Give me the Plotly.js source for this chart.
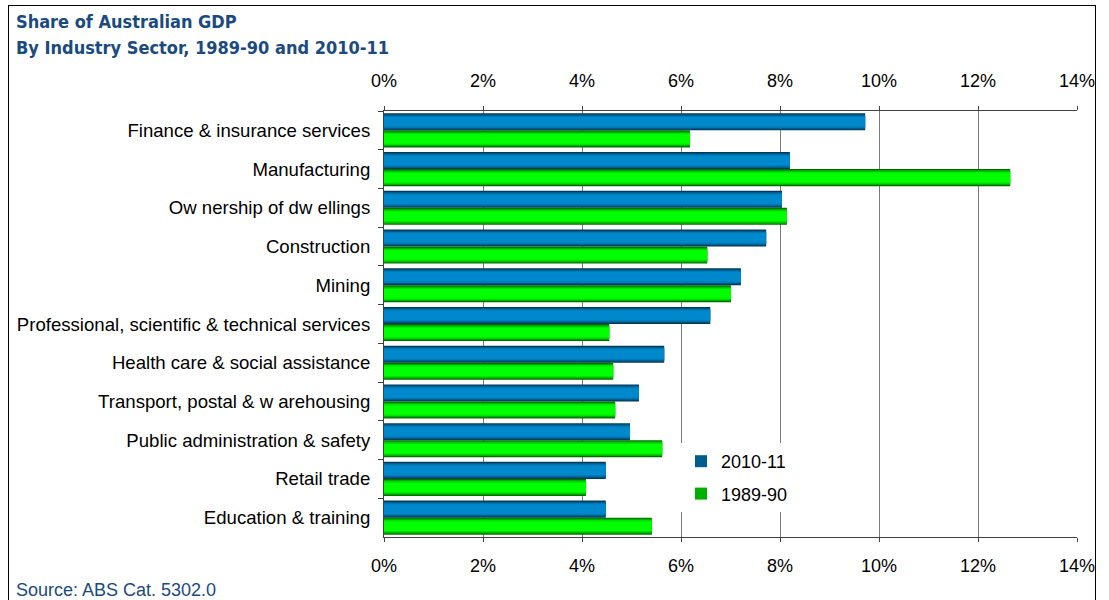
<!DOCTYPE html>
<html>
<head>
<meta charset="utf-8">
<script src="https://cdn.plot.ly/plotly-3.0.1.min.js"></script>
<style>
  html, body { margin: 0; padding: 0; background: #fff; }
  #wrap { position: relative; width: 1109px; height: 600px; overflow: hidden; }
  #chart { width: 1109px; height: 600px; }
  #frame { position: absolute; left: 8px; top: 5px; width: 1088px; height: 620px; border: 1px solid #000; pointer-events: none; box-sizing: border-box; }
</style>
</head>
<body>
<div id="wrap"><div id="chart"></div><div id="frame"></div></div>
<script>
// ---- data ----
const categories = [
  "Finance & insurance services",
  "Manufacturing",
  "Ow nership of dw ellings",
  "Construction",
  "Mining",
  "Professional, scientific & technical services",
  "Health care & social assistance",
  "Transport, postal & w arehousing",
  "Public administration & safety",
  "Retail trade",
  "Education & training"
];
const share2010 = [9.72, 8.20, 8.04, 7.72, 7.21, 6.59, 5.66, 5.15, 4.97, 4.48, 4.48];
const share1989 = [6.18, 12.65, 8.14, 6.53, 7.01, 4.55, 4.63, 4.67, 5.62, 4.08, 5.41];
const seriesNames = ["2010-11", "1989-90"];
const xTicks = [0, 2, 4, 6, 8, 10, 12, 14];
const titleLines = ["Share of Australian GDP", "By Industry Sector, 1989-90 and 2010-11"];
const sourceText = "Source: ABS Cat. 5302.0";

// ---- styling (gradient simulated with stacked overlay layers) ----
const half = 0.44;
const layerFrac = [1.0, 0.86, 0.72, 0.56];
const blueShades = ["#003a58", "#005c8c", "#0078b4", "#0088cc"];
const greenShades = ["#006e00", "#00b000", "#00e000", "#00ff00"];

function layers(values, name, shades, center) {
  return layerFrac.map((f, i) => {
    const w = half * f;
    return {
      type: "bar",
      orientation: "h",
      y: categories,
      x: values,
      name: name,
      legendgroup: name,
      showlegend: i === 1,
      width: w,
      offset: center - w / 2,
      marker: { color: shades[i], line: { width: 0 } },
      hoverinfo: "skip"
    };
  });
}

const traces = []
  .concat(layers(share2010, seriesNames[0], blueShades, -half / 2))
  .concat(layers(share1989, seriesNames[1], greenShades, half / 2));

// invisible trace to anchor the top axis
traces.push({
  type: "scatter", mode: "markers", x: [xTicks[0]], y: [categories[0]],
  xaxis: "x2", marker: { opacity: 0 }, showlegend: false, hoverinfo: "skip"
});

const FONT = "Liberation Sans, Arial, sans-serif";
const tickFont = { family: FONT, size: 18, color: "#000" };
const axisX = {
  range: [0, 14], tickvals: xTicks, ticktext: xTicks.map(v => v + "%"),
  showgrid: true, gridcolor: "#7a7a7a", gridwidth: 1, zeroline: false,
  showline: true, linecolor: "#404040", linewidth: 1,
  ticks: "outside", ticklen: 4, tickcolor: "#404040",
  tickfont: tickFont, fixedrange: true
};

const titleFont = { family: "DejaVu Sans Condensed, DejaVu Sans, sans-serif", size: 18, color: "#1b4a7e", weight: "bold" };
const px = X => (X - 384) / 693;
const py = Y => (537 - Y) / 426;

const layout = {
  width: 1109, height: 600,
  margin: { l: 384, r: 32, t: 111, b: 63, pad: 0 },
  paper_bgcolor: "#fff", plot_bgcolor: "#fff",
  barmode: "overlay",
  hovermode: false,
  xaxis: Object.assign({}, axisX, { side: "bottom", ticklabelstandoff: 8 }),
  xaxis2: Object.assign({}, axisX, { side: "top", overlaying: "x", showgrid: false, ticklabelstandoff: 12 }),
  yaxis: {
    type: "category", categoryorder: "array", categoryarray: categories,
    range: [categories.length - 0.5, -0.5],
    showline: true, linecolor: "#404040", linewidth: 1,
    ticks: "outside", ticklen: 5, tickcolor: "#404040", showgrid: false, zeroline: false,
    tickson: "boundaries", ticklabelstandoff: 9,
    tickfont: { family: FONT, size: 18.6, color: "#000" }, fixedrange: true
  },
  legend: {
    x: px(681), xanchor: "left", y: py(443), yanchor: "top",
    bgcolor: "rgba(255,255,255,1)", borderwidth: 0,
    font: { family: FONT, size: 18, color: "#000" },
    tracegroupgap: 6, traceorder: "grouped"
  },
  annotations: [
    { text: titleLines[0], showarrow: false, xref: "paper", yref: "paper",
      x: px(14), y: py(21), xanchor: "left", yanchor: "middle", font: titleFont },
    { text: titleLines[1], showarrow: false, xref: "paper", yref: "paper",
      x: px(14), y: py(48), xanchor: "left", yanchor: "middle", font: titleFont },
    { text: sourceText, showarrow: false, xref: "paper", yref: "paper",
      x: px(14), y: py(590), xanchor: "left", yanchor: "middle",
      font: { family: FONT, size: 18, color: "#1b4a7e" } }
  ],
  showlegend: true
};

Plotly.newPlot("chart", traces, layout, { displayModeBar: false, staticPlot: true });
</script>
</body>
</html>
